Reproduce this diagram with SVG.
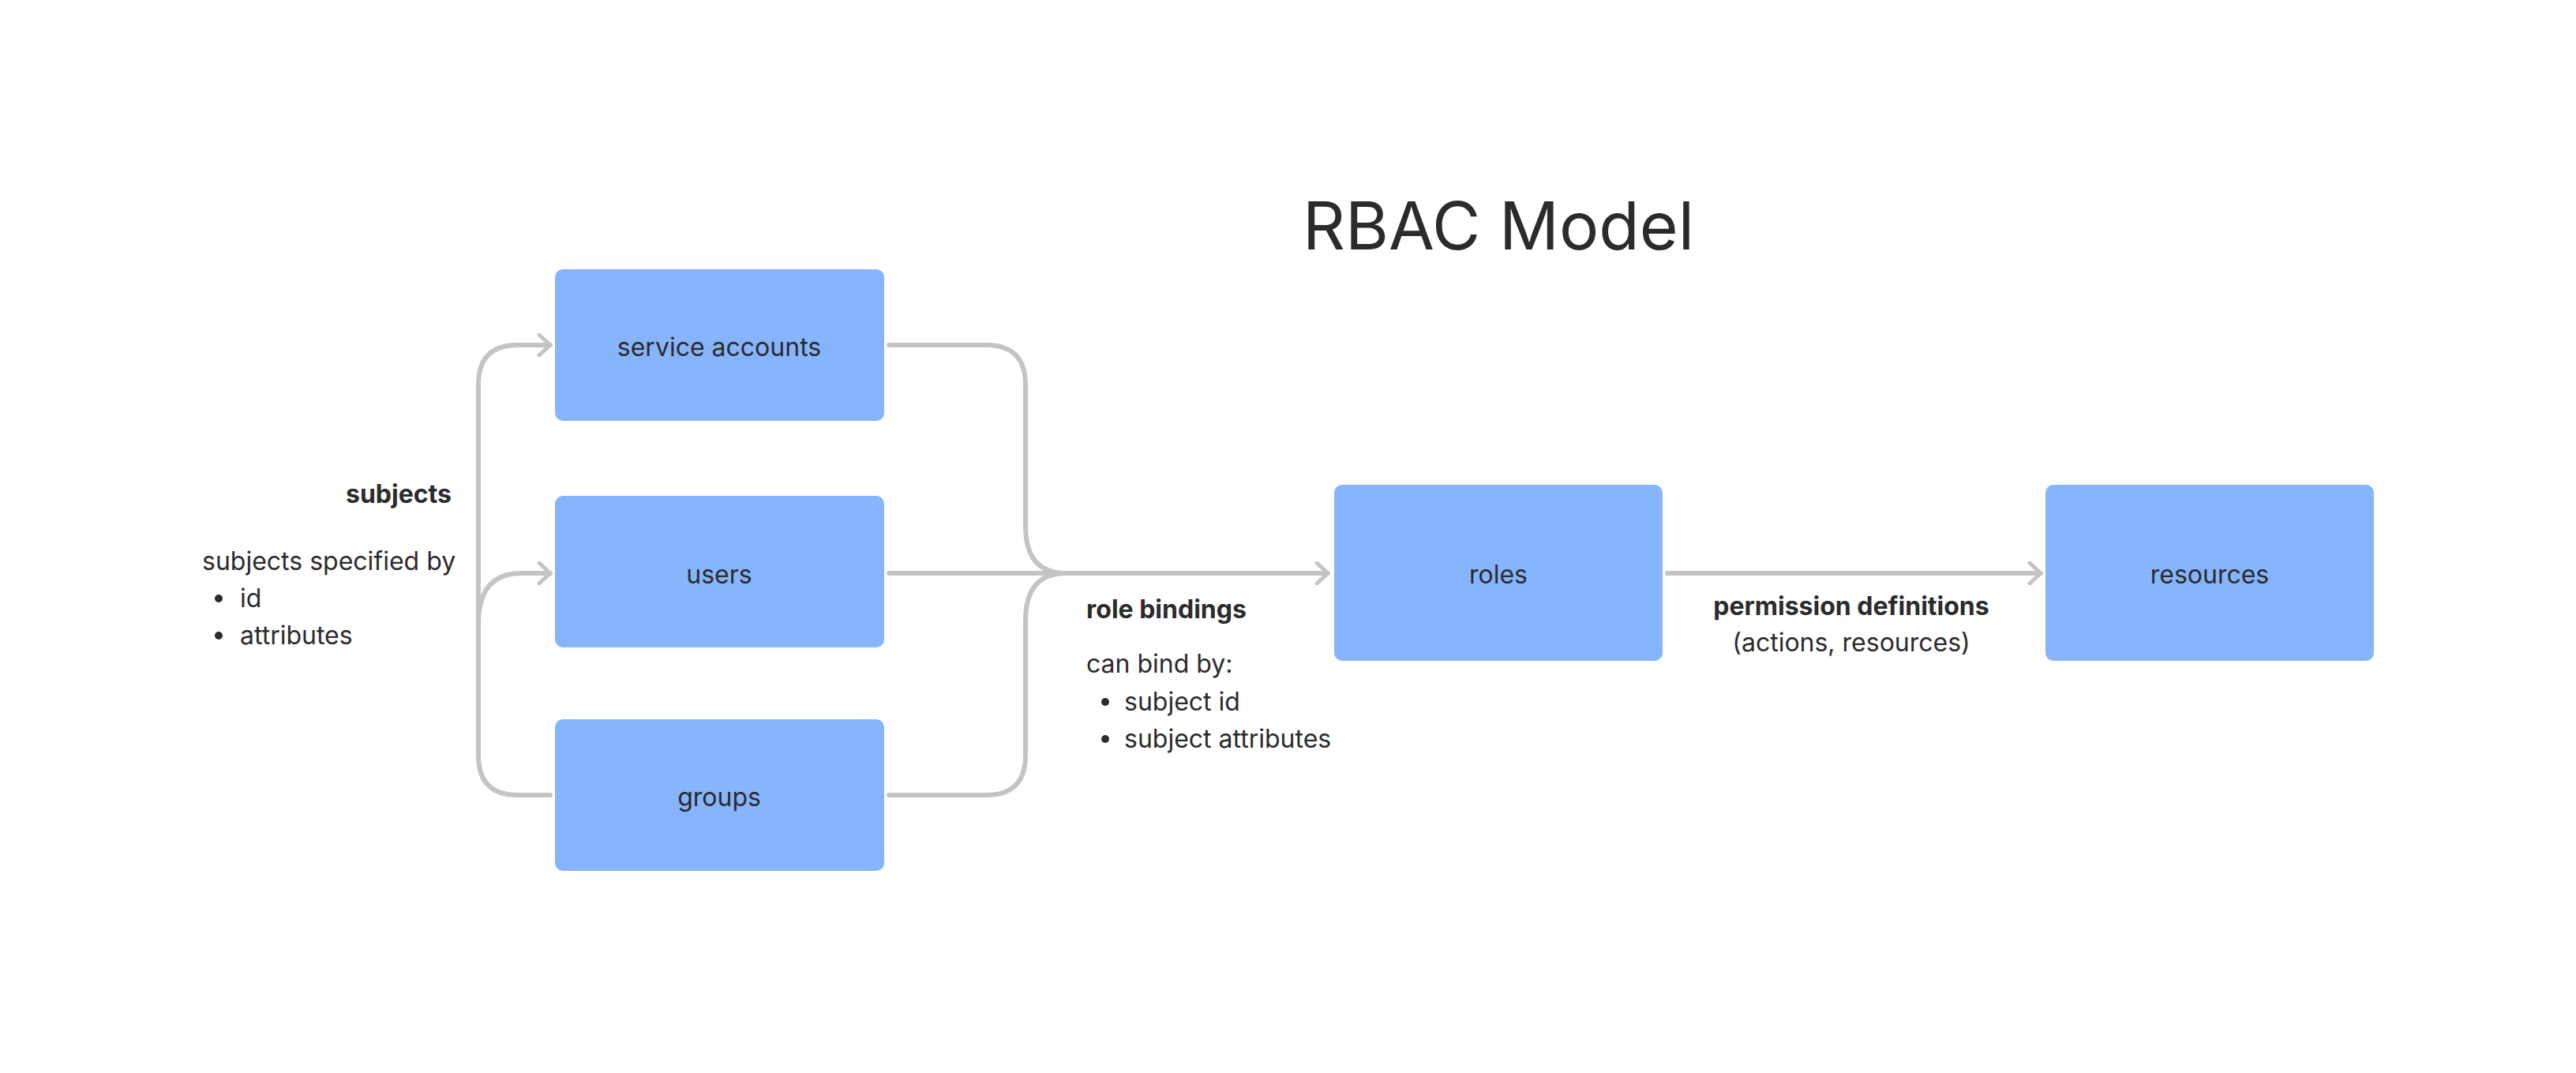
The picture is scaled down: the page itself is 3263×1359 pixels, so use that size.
<svg xmlns="http://www.w3.org/2000/svg" width="3263" height="1359" viewBox="0 0 3263 1359">
<style>
.box{fill:#86b5fd}
.lbl{font-family:Inter,"Liberation Sans",sans-serif;font-size:32px;fill:#2b2b2b;text-anchor:middle;dominant-baseline:central}
.t{font-family:Inter,"Liberation Sans",sans-serif;font-size:32px;fill:#2b2b2b}
.b{font-weight:bold}
.c{fill:none;stroke:#c4c4c4;stroke-width:6;stroke-linecap:round;stroke-linejoin:round}
</style>
<defs>
<marker id="arr" viewBox="0 0 20 30" refX="18" refY="15" markerWidth="20" markerHeight="30" markerUnits="userSpaceOnUse" orient="auto">
<path d="M4 2 L18 15 L4 28" fill="none" stroke="#c4c4c4" stroke-width="5" stroke-linecap="round"/>
</marker>
</defs>
<rect width="3263" height="1359" fill="#fff"/>
<text x="1898" y="316" font-family="Inter,'Liberation Sans',sans-serif" font-size="84" fill="#2b2b2b" text-anchor="middle">RBAC Model</text>
<g id="connectors">
<path class="c" d="M697 1007 H656 Q606 1007 606 957 V487 Q606 437 656 437 H697" marker-end="url(#arr)"/>
<path class="c" d="M606 790 Q606 726 660 726 H697" marker-end="url(#arr)"/>
<path class="c" d="M1126 437 H1249 Q1299 437 1299 487 V666 Q1299 726 1350 726"/>
<path class="c" d="M1126 1007 H1249 Q1299 1007 1299 957 V786 Q1299 726 1350 726"/>
<path class="c" d="M1126 726 H1682" marker-end="url(#arr)"/>
<path class="c" d="M2112 726 H2585" marker-end="url(#arr)"/>
</g>
<g id="service-accounts"><rect class="box" x="703" y="341" width="417" height="192" rx="10"/><text class="lbl" x="911" y="439">service accounts</text></g>
<g id="users"><rect class="box" x="703" y="628" width="417" height="192" rx="10"/><text class="lbl" x="911" y="727">users</text></g>
<g id="groups"><rect class="box" x="703" y="911" width="417" height="192" rx="10"/><text class="lbl" x="911" y="1009">groups</text></g>
<g id="roles"><rect class="box" x="1690" y="614" width="416" height="223" rx="10"/><text class="lbl" x="1898" y="727">roles</text></g>
<g id="resources"><rect class="box" x="2591" y="614" width="416" height="223" rx="10"/><text class="lbl" x="2799" y="727">resources</text></g>
<g id="subjects-label">
<text class="t b" x="572" y="637" text-anchor="end">subjects</text>
<text class="t" x="256" y="722">subjects specified by</text>
<circle cx="277" cy="758" r="5" fill="#2b2b2b"/><text class="t" x="304" y="769">id</text>
<circle cx="277" cy="805" r="5" fill="#2b2b2b"/><text class="t" x="304" y="816">attributes</text>
</g>
<g id="role-bindings-label">
<text class="t b" x="1376" y="783">role bindings</text>
<text class="t" x="1376" y="852">can bind by:</text>
<circle cx="1400" cy="889" r="5" fill="#2b2b2b"/><text class="t" x="1424" y="900">subject id</text>
<circle cx="1400" cy="936" r="5" fill="#2b2b2b"/><text class="t" x="1424" y="947">subject attributes</text>
</g>
<g id="permission-label">
<text class="t b" x="2345" y="779" text-anchor="middle">permission definitions</text>
<text class="t" x="2345" y="825" text-anchor="middle">(actions, resources)</text>
</g>
</svg>
